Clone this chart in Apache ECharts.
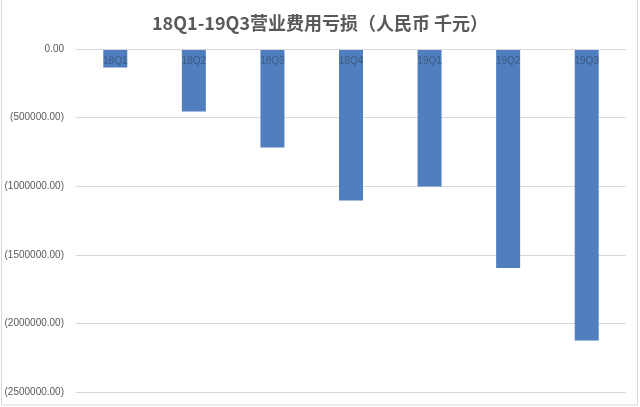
<!DOCTYPE html>
<html><head><meta charset="utf-8">
<script src="https://cdn.jsdelivr.net/npm/echarts@6/dist/echarts.min.js"></script>
<style>html,body{margin:0;padding:0;background:#fff}#c{width:640px;height:407px}</style>
</head><body><div id="c"></div>
<script>
const categories = ['18Q1','18Q2','18Q3','18Q4','19Q1','19Q2','19Q3'];
const values = [-135000, -456000, -718000, -1104000, -1002000, -1596000, -2125000];
const titleText = '18Q1-19Q3营业费用亏损（人民币 千元）';

function fmt(v){
  const s = Math.abs(v).toFixed(2);
  return v < 0 ? '(' + s + ')' : s;
}
const chart = echarts.init(document.getElementById('c'));
chart.setOption({
  backgroundColor:'#fff',
  animation:false,
  title:{text:titleText,left:'center',top:9,textStyle:{fontFamily:'Noto Sans CJK SC',fontSize:18,fontWeight:'bold',color:'#595959'}},
  graphic:[{type:'rect',shape:{x:1.5,y:-2,width:636,height:407},style:{fill:'none',stroke:'#d9d9d9',lineWidth:1},silent:true}],
  grid:{left:76,right:14,top:49,bottom:15},
  xAxis:{type:'category',data:categories,position:'top',z:10,
    axisLine:{show:true,lineStyle:{color:'#d9d9d9',width:1}},axisTick:{show:false},
    axisLabel:{inside:true,margin:7,color:'#3f5a80',fontSize:10,fontFamily:'Liberation Sans'}},
  yAxis:{type:'value',min:-2500000,max:0,interval:500000,
    axisLine:{show:false},axisTick:{show:false},
    splitLine:{lineStyle:{color:'#d9d9d9',width:1}},
    axisLabel:{formatter:fmt,color:'#595959',fontSize:10,fontFamily:'Liberation Sans',margin:12}},
  series:[{type:'bar',data:values,barWidth:24,itemStyle:{color:'#4f7fbe'},z:1}]
});
</script></body></html>
